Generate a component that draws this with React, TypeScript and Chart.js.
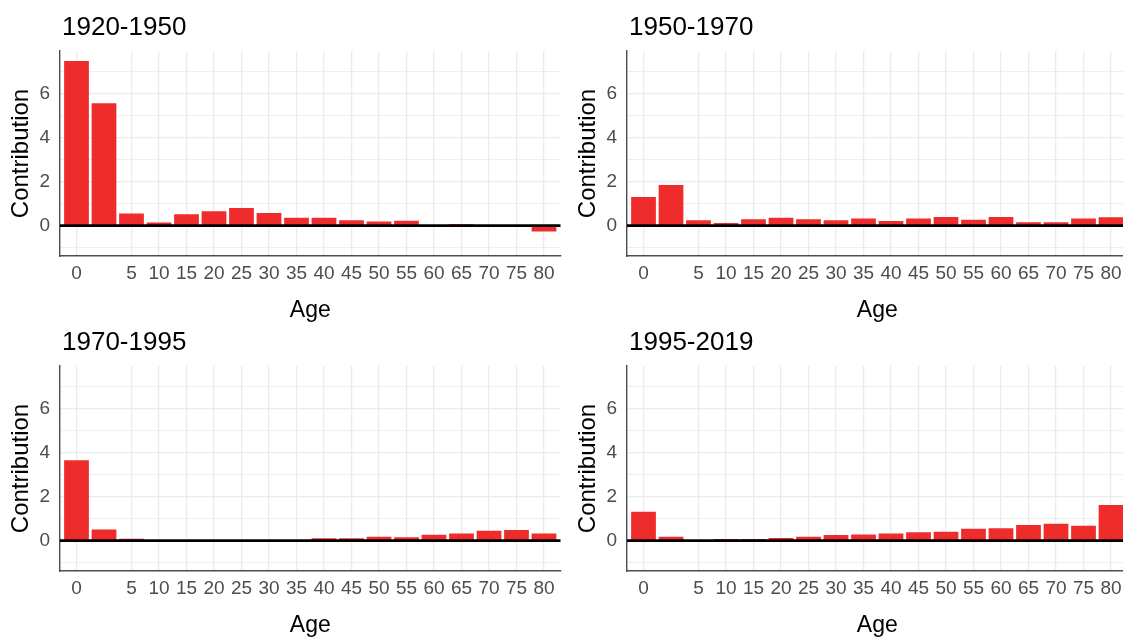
import React, { useEffect, useRef } from 'react';
import { Chart, registerables } from 'chart.js';

Chart.register(...registerables);
Chart.defaults.font.family = '"Liberation Sans", Arial, Helvetica, sans-serif';

// Age groups (the 1-4 group sits between 0 and 5 and carries no tick label)
const ageLabels = ['0', '1', '5', '10', '15', '20', '25', '30', '35', '40', '45', '50', '55', '60', '65', '70', '75', '80'];
const labelledAgeIdx = [0, 2, 3, 4, 5, 6, 7, 8, 9, 10, 11, 12, 13, 14, 15, 16, 17];

// Contribution of each age group to the change in life expectancy
const contrib1920_1950 = [7.49, 5.56, 0.55, 0.14, 0.52, 0.66, 0.8, 0.57, 0.36, 0.36, 0.24, 0.19, 0.22, 0.01, 0.06, 0.0, 0.0, -0.27];
const contrib1950_1970 = [1.3, 1.85, 0.24, 0.12, 0.29, 0.36, 0.29, 0.24, 0.33, 0.21, 0.33, 0.39, 0.27, 0.39, 0.15, 0.15, 0.32, 0.38];
const contrib1970_1995 = [3.66, 0.51, 0.09, 0.01, 0.01, 0.01, 0.01, 0.01, 0.01, 0.11, 0.11, 0.18, 0.15, 0.27, 0.32, 0.45, 0.48, 0.32];
const contrib1995_2019 = [1.31, 0.18, 0.02, 0.07, 0.07, 0.12, 0.18, 0.26, 0.28, 0.32, 0.38, 0.41, 0.54, 0.56, 0.71, 0.77, 0.68, 1.62];

const periodTitles = ['1920-1950', '1950-1970', '1970-1995', '1995-2019'];

const yTickValues = [-1, 0, 1, 2, 3, 4, 5, 6, 7];
const Y_MIN = -1.38;
const Y_MAX = 7.94;

const BAR_COLOR = '#EE2C2C';
const GRID_COLOR = '#ebebeb';
const AXIS_COLOR = '#4d4d4d';
const TICK_COLOR = '#4d4d4d';

const CANVAS_W = 565;
const CANVAS_H = 330;

const panelTitlePlugin = {
  id: 'panelTitle',
  afterDraw(chart: any, _args: any, opts: any) {
    const { ctx, chartArea } = chart;
    ctx.save();
    ctx.font = '26px "Liberation Sans", Arial, sans-serif';
    ctx.fillStyle = '#000';
    ctx.textAlign = 'left';
    ctx.textBaseline = 'middle';
    ctx.fillText(opts.text || '', chartArea.left + 2, 28);
    ctx.restore();
  },
};

const zeroLinePlugin = {
  id: 'zeroLine',
  afterDatasetsDraw(chart: any) {
    const { ctx, chartArea, scales } = chart;
    const y0 = scales.y.getPixelForValue(0);
    ctx.save();
    ctx.strokeStyle = '#000';
    ctx.lineWidth = 2.6;
    ctx.beginPath();
    ctx.moveTo(chartArea.left, y0);
    ctx.lineTo(chartArea.right, y0);
    ctx.stroke();
    ctx.restore();
  },
};

function Panel({ title, values, left, top }: { title: string; values: number[]; left: number; top: number }) {
  const ref = useRef<HTMLCanvasElement | null>(null);

  useEffect(() => {
    if (!ref.current) return;
    const chart = new Chart(ref.current, {
      type: 'bar',
      data: {
        datasets: [
          {
            data: values.map((v, i) => ({ x: i, y: v })),
            backgroundColor: BAR_COLOR,
            borderWidth: 0,
            barPercentage: 0.9,
            categoryPercentage: 1,
          },
        ],
      },
      options: {
        animation: false,
        responsive: false,
        maintainAspectRatio: false,
        layout: { padding: { left: 0, right: 4.5, top: 51, bottom: 0 } },
        plugins: {
          legend: { display: false },
          tooltip: { enabled: false },
          panelTitle: { text: title },
        } as any,
        scales: {
          x: {
            type: 'linear',
            min: -0.6,
            max: 17.6,
            offset: false,
            afterBuildTicks: (s: any) => {
              s.ticks = labelledAgeIdx.map((v) => ({ value: v }));
            },
            afterFit: (s: any) => {
              s.height = 74;
            },
            ticks: {
              autoSkip: false,
              maxRotation: 0,
              minRotation: 0,
              padding: 6,
              color: TICK_COLOR,
              font: { size: 19 },
              callback: (v: any) => ageLabels[Number(v)] ?? '',
            },
            grid: { color: GRID_COLOR, lineWidth: 1.3, drawTicks: false, offset: false },
            border: { display: true, color: AXIS_COLOR, width: 1.4 },
            title: {
              display: true,
              text: 'Age',
              color: '#000',
              font: { size: 23 },
              padding: { top: 0, bottom: 6 },
            },
          },
          y: {
            min: Y_MIN,
            max: Y_MAX,
            afterBuildTicks: (s: any) => {
              s.ticks = yTickValues.map((v) => ({ value: v }));
            },
            afterFit: (s: any) => {
              s.width = 60;
            },
            ticks: {
              autoSkip: false,
              padding: 10,
              color: TICK_COLOR,
              font: { size: 19 },
              callback: (v: any) => (Number(v) % 2 === 0 ? String(v) : ''),
            },
            grid: {
              drawTicks: false,
              color: GRID_COLOR,
              lineWidth: (ctx: any) => (ctx.tick && Math.abs(ctx.tick.value) % 2 === 1 ? 0.8 : 1.3),
            },
            border: { display: true, color: AXIS_COLOR, width: 1.4 },
            title: {
              display: true,
              text: 'Contribution',
              color: '#000',
              font: { size: 24 },
              padding: { top: 7, bottom: 0 },
            },
          },
        },
      } as any,
      plugins: [panelTitlePlugin, zeroLinePlugin],
    });
    return () => chart.destroy();
  }, [title, values]);

  return (
    <canvas
      ref={ref}
      width={CANVAS_W}
      height={CANVAS_H}
      style={{ position: 'absolute', left, top, width: CANVAS_W, height: CANVAS_H, display: 'block' }}
    />
  );
}

export default function App() {
  return (
    <div
      style={{
        position: 'fixed',
        left: 0,
        top: 0,
        width: 1123,
        height: 637,
        overflow: 'hidden',
        background: '#fff',
      }}
    >
      <Panel title={periodTitles[0]} values={contrib1920_1950} left={0} top={0} />
      <Panel title={periodTitles[1]} values={contrib1950_1970} left={567} top={0} />
      <Panel title={periodTitles[2]} values={contrib1970_1995} left={0} top={315} />
      <Panel title={periodTitles[3]} values={contrib1995_2019} left={567} top={315} />
    </div>
  );
}
